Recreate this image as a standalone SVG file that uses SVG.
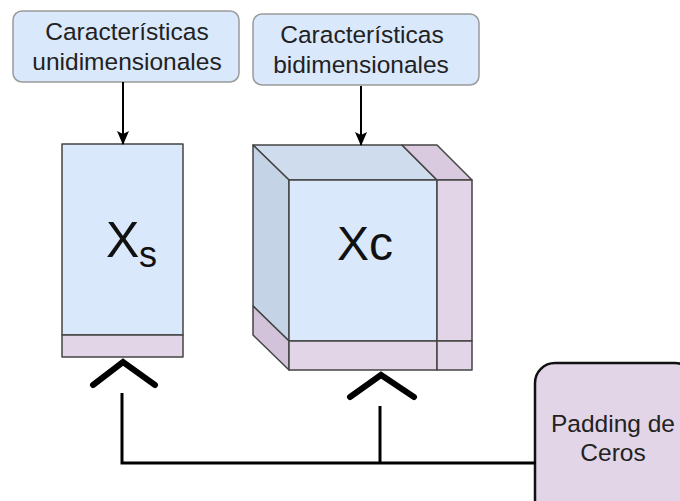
<svg xmlns="http://www.w3.org/2000/svg" width="680" height="501" viewBox="0 0 680 501">
  <style>
    .lbl { font-family: "Liberation Sans", Arial, sans-serif; font-size: 24.5px; fill: #222; text-anchor: middle; }
    .sym { font-family: "Liberation Sans", Arial, sans-serif; fill: #111; }
    .feat { fill: #dae8fc; stroke: #9a9a9a; stroke-width: 1.5; }
    .blue { fill: #dae8fc; stroke: #444; stroke-width: 1.5; stroke-linejoin: round; }
    .blueTop { fill: #cfdcee; stroke: #444; stroke-width: 1.5; stroke-linejoin: round; }
    .blueSide { fill: #c5d3e6; stroke: #444; stroke-width: 1.5; stroke-linejoin: round; }
    .pink { fill: #e1d5e7; stroke: #444; stroke-width: 1.5; stroke-linejoin: round; }
    .pinkTop { fill: #d9cadf; stroke: #444; stroke-width: 1.5; stroke-linejoin: round; }
    .pinkSide { fill: #d2c3da; stroke: #444; stroke-width: 1.5; stroke-linejoin: round; }
    .wire { fill: none; stroke: #000; stroke-width: 3; }
    .arrow { fill: none; stroke: #000; stroke-width: 2; }
    .caret { fill: none; stroke: #000; stroke-width: 6; stroke-linecap: round; stroke-linejoin: miter; }
  </style>
  <defs>
    <!-- classic filled arrowhead, drawn pointing along +x -->
    <marker id="head" viewBox="0 0 14 12" refX="13" refY="6" markerWidth="14" markerHeight="12" markerUnits="userSpaceOnUse" orient="auto">
      <path d="M0,0 L14,6 L0,12 L3,6 Z" fill="#000"/>
    </marker>
  </defs>

  <g id="feat-1d">
    <rect class="feat" x="13" y="11" width="226" height="71" rx="9"/>
    <text class="lbl" x="127" y="40">Características</text>
    <text class="lbl" x="127" y="70">unidimensionales</text>
  </g>

  <g id="feat-2d">
    <rect class="feat" x="253" y="14" width="226" height="71" rx="9"/>
    <text class="lbl" x="362" y="43">Características</text>
    <text class="lbl" x="361" y="73">bidimensionales</text>
  </g>

  <g id="xs">
    <rect class="blue" x="62" y="144" width="121" height="191"/>
    <rect class="pink" x="62" y="335" width="121" height="22"/>
    <text class="sym" x="106" y="257" font-size="50">X</text>
    <text class="sym" x="139" y="267" font-size="36">s</text>
  </g>

  <g id="xc">
    <!-- top face -->
    <polygon class="blueTop" points="253,145 402,145 437,180 289,180"/>
    <polygon class="pinkTop" points="402,145 437,145 472,180 437,180"/>
    <!-- left face -->
    <polygon class="blueSide" points="253,145 289,180 289,341 253,306"/>
    <polygon class="pinkSide" points="253,306 289,341 289,370 253,335"/>
    <!-- front face -->
    <rect class="blue" x="289" y="180" width="148" height="161"/>
    <rect class="pink" x="437" y="180" width="35" height="161"/>
    <rect class="pink" x="289" y="341" width="148" height="29"/>
    <rect class="pink" x="437" y="341" width="35" height="29"/>
    <text class="sym" x="337" y="260" font-size="48">Xc</text>
  </g>

  <g id="padding">
    <rect x="535" y="363" width="160" height="160" rx="20" fill="#e1d5e7" stroke="#111" stroke-width="2.5"/>
    <text class="lbl" x="613" y="432" font-size="25">Padding de</text>
    <text class="lbl" x="613" y="461" font-size="25">Ceros</text>
  </g>

  <g id="connectors">
    <line class="arrow" x1="123" y1="82" x2="123" y2="144" marker-end="url(#head)"/>
    <line class="arrow" x1="361" y1="86" x2="361" y2="145" marker-end="url(#head)"/>
    <polyline class="wire" points="122,393 122,463 536,463"/>
    <line class="wire" x1="380" y1="406" x2="380" y2="463"/>
    <polyline class="caret" points="93,385 123,362 155,385"/>
    <polyline class="caret" points="350,397 381,375 414,397"/>
  </g>
</svg>
